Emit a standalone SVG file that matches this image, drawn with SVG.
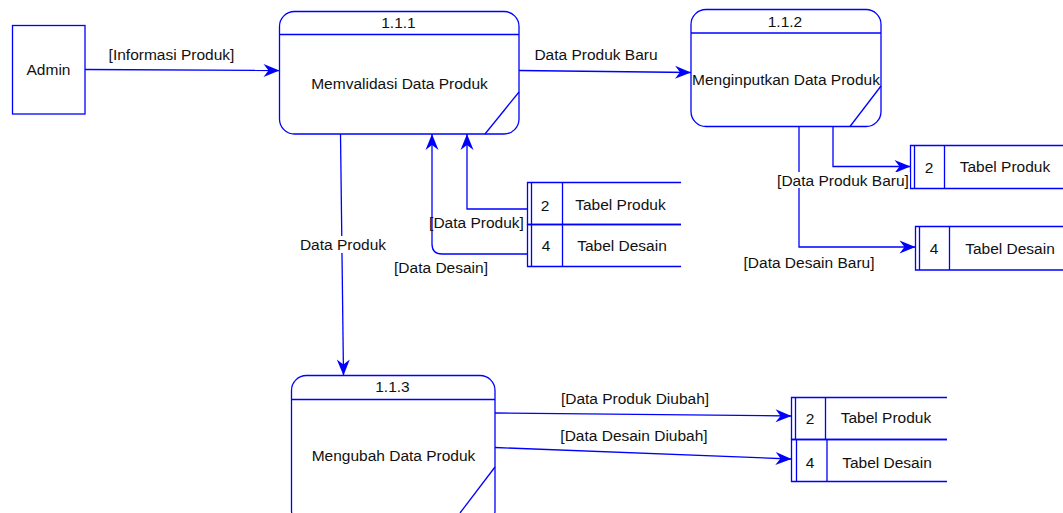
<svg xmlns="http://www.w3.org/2000/svg" width="1063" height="513" viewBox="0 0 1063 513">
  <style>
    .shape { fill: #ffffff; stroke: #0000ff; stroke-width: 1.3; }
    .line { fill: none; stroke: #0000ff; stroke-width: 1.3; }
    .flow { fill: none; stroke: #0000ff; stroke-width: 1.3; marker-end: url(#arrow); }
    text { font-family: "Liberation Sans", Arial, sans-serif; font-size: 15.5px; fill: #111111; text-anchor: middle; }
    .bg { fill: #ffffff; stroke: none; }
  </style>
  <defs>
    <marker id="arrow" markerUnits="userSpaceOnUse" markerWidth="18" markerHeight="16" viewBox="-17 -8 18 16" refX="0" refY="0" orient="auto">
      <path d="M0,0 L-16,-6.5 L-11,0 L-16,6.5 Z" fill="#0000ff"/>
    </marker>
  </defs>

  <rect width="1063" height="513" fill="#ffffff"/>

  <!-- External entity -->
  <g id="admin">
    <rect class="shape" x="12.5" y="25.5" width="72.5" height="88.5"/>
    <text x="48.5" y="75">Admin</text>
  </g>

  <!-- Process 1.1.1 -->
  <g id="p111">
    <rect class="shape" x="279.5" y="11.5" width="239.5" height="122.5" rx="15" ry="15"/>
    <line class="line" x1="279.5" y1="34.5" x2="519" y2="34.5"/>
    <line class="line" x1="519" y1="92" x2="485" y2="134"/>
    <text x="398.5" y="28">1.1.1</text>
    <text x="399.5" y="88.5">Memvalidasi Data Produk</text>
  </g>

  <!-- Process 1.1.2 -->
  <g id="p112">
    <rect class="shape" x="691" y="9.5" width="190" height="117" rx="15" ry="15"/>
    <line class="line" x1="691" y1="33" x2="881" y2="33"/>
    <line class="line" x1="881" y1="86" x2="850" y2="126.5"/>
    <text x="785" y="26.5">1.1.2</text>
    <text x="786" y="84.5">Menginputkan Data Produk</text>
  </g>

  <!-- Process 1.1.3 -->
  <g id="p113">
    <rect class="shape" x="291.5" y="375.5" width="203.5" height="150" rx="15" ry="15"/>
    <line class="line" x1="291.5" y1="399.5" x2="495" y2="399.5"/>
    <line class="line" x1="495" y1="467" x2="460" y2="513"/>
    <text x="392.5" y="392">1.1.3</text>
    <text x="393.5" y="460.5">Mengubah Data Produk</text>
  </g>

  <!-- Data stores beside 1.1.1 -->
  <g id="store2a">
    <path class="line" d="M681,182.5 L527.5,182.5 L527.5,224.5 L681,224.5 M531.5,182.5 L531.5,224.5 M562.5,182.5 L562.5,224.5"/>
    <text x="545" y="210.5">2</text>
    <text x="620.5" y="210">Tabel Produk</text>
  </g>
  <g id="store4a">
    <path class="line" d="M681,224.5 L527.5,224.5 L527.5,266.5 L681,266.5 M531.5,224.5 L531.5,266.5 M562.5,224.5 L562.5,266.5"/>
    <text x="546" y="250.5">4</text>
    <text x="622" y="250.5">Tabel Desain</text>
  </g>

  <!-- Data stores beside 1.1.2 -->
  <g id="store2b">
    <path class="line" d="M1063,145.5 L910.5,145.5 L910.5,188.5 L1063,188.5 M914.5,145.5 L914.5,188.5 M944.5,145.5 L944.5,188.5"/>
    <text x="929" y="172.5">2</text>
    <text x="1005" y="172">Tabel Produk</text>
  </g>
  <g id="store4b">
    <path class="line" d="M1063,226.5 L915.5,226.5 L915.5,270 L1063,270 M919.5,226.5 L919.5,270 M949.5,226.5 L949.5,270"/>
    <text x="934" y="253.5">4</text>
    <text x="1010" y="253.5">Tabel Desain</text>
  </g>

  <!-- Data stores beside 1.1.3 -->
  <g id="store2c">
    <path class="line" d="M947,397.5 L791.5,397.5 L791.5,439.5 L947,439.5 M795.5,397.5 L795.5,439.5 M825.5,397.5 L825.5,439.5"/>
    <text x="810" y="423.5">2</text>
    <text x="886" y="423">Tabel Produk</text>
  </g>
  <g id="store4c">
    <path class="line" d="M947,439.5 L791.5,439.5 L791.5,481.5 L947,481.5 M796.5,439.5 L796.5,481.5 M827,439.5 L827,481.5"/>
    <text x="810" y="467.5">4</text>
    <text x="887" y="467.5">Tabel Desain</text>
  </g>

  <!-- Data flows -->
  <g id="connectors">
    <path class="flow" d="M85,69.5 L279.5,70.5"/>
    <path class="flow" d="M519,70.5 L691,72.5"/>
    <path class="flow" d="M340.5,134 L343.5,375.5"/>
    <path class="flow" d="M527.5,209 L467,209 L467,134"/>
    <path class="flow" d="M527.5,254 L442,254 Q432,254 432,244 L432,134"/>
    <path class="flow" d="M833,126.5 L833,166.5 L910.5,166.5"/>
    <path class="flow" d="M799,126.5 L799,247 L915.5,247"/>
    <path class="flow" d="M495,413 L791.5,416"/>
    <path class="flow" d="M495,447.5 L791.5,459"/>

    <text x="171.5" y="59.5">[Informasi Produk]</text>
    <text x="596" y="59.5">Data Produk Baru</text>
    <rect class="bg" x="299" y="236" width="88" height="17"/>
    <text x="343" y="249.5">Data Produk</text>
    <text x="476.5" y="227.5">[Data Produk]</text>
    <text x="441" y="272.5">[Data Desain]</text>
    <rect class="bg" x="776" y="172" width="134" height="16"/>
    <text x="843" y="185.5">[Data Produk Baru]</text>
    <text x="809" y="267.5">[Data Desain Baru]</text>
    <text x="635" y="403.5">[Data Produk Diubah]</text>
    <text x="634" y="440.5">[Data Desain Diubah]</text>
  </g>
</svg>
